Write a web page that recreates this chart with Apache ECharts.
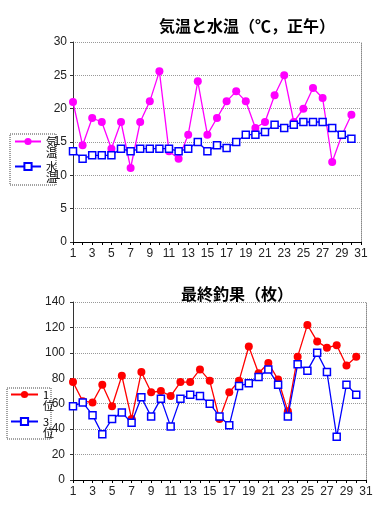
<!DOCTYPE html>
<html>
<head>
<meta charset="utf-8">
<script src="https://cdn.jsdelivr.net/npm/echarts@6/dist/echarts.min.js"></script>
<style>html,body{margin:0;padding:0;background:#fff;}#c{width:383px;height:525px;}</style>
</head>
<body>
<div id="c"></div>
<script>
var days = ['1','2','3','4','5','6','7','8','9','10','11','12','13','14','15','16','17','18','19','20','21','22','23','24','25','26','27','28','29','30','31'];
var airTemp = [21, 14.5, 18.6, 18, 14, 18, 11.1, 18, 21.1, 25.6, 13.6, 12.5, 16.1, 24.1, 16.1, 18.6, 21.1, 22.6, 21.1, 17.1, 18, 22, 25, 18, 20, 23.1, 21.6, 12, 16, 19.1];
var waterTemp = [13.6, 12.5, 13, 13, 13, 14, 13.6, 14, 14, 14, 14, 13.6, 14, 15, 13.6, 14.5, 14.1, 15, 16.1, 16.1, 16.5, 17.6, 17.1, 17.6, 18, 18, 18, 17.1, 16.1, 15.5];
var firstPlace = [77, 62, 61, 75, 58, 82, 48, 85, 69, 70, 66, 77, 77, 87, 78, 48, 69, 78, 105, 84, 92, 79, 54, 97, 122, 109, 104, 106, 90, 97];
var thirdPlace = [58, 61, 51, 36, 48, 53, 45, 65, 50, 64, 42, 64, 67, 66, 60, 50, 43, 74, 76, 81, 87, 75, 50, 91, 86, 100, 85, 34, 75, 67];
var tempAxis = {min: 0, max: 30, interval: 5};
var catchAxis = {min: 0, max: 140, interval: 20};
var names = {air: '気温', water: '水温', first: '1位', third: '3位'};

var font = 'Liberation Sans, Arial, sans-serif';
var cjk = '"Noto Sans CJK JP", sans-serif';
var chart = echarts.init(document.getElementById('c'), null, {renderer: 'canvas'});

function xAx(gi) {
  return {
    type: 'category', gridIndex: gi, data: days, boundaryGap: false,
    axisLine: {lineStyle: {color: '#000', width: 1}},
    axisTick: {interval: 0, length: 3, lineStyle: {color: '#000'}},
    axisLabel: {interval: 1, color: '#222', fontFamily: font, fontSize: 12, margin: 6},
    splitLine: {show: false}
  };
}
function yAx(gi, a, margin) {
  return {
    type: 'value', gridIndex: gi, min: a.min, max: a.max, interval: a.interval,
    axisLine: {show: true, lineStyle: {color: '#333', width: 1}},
    axisTick: {show: true, length: 3, lineStyle: {color: '#333'}},
    axisLabel: {color: '#222', fontFamily: font, fontSize: 12, margin: margin},
    splitLine: {show: true, lineStyle: {color: '#999', type: 'dotted', width: 1}}
  };
}
function yRight(gi, a) {
  return {
    type: 'value', gridIndex: gi, position: 'right', min: a.min, max: a.max, interval: a.interval,
    axisLine: {show: true, lineStyle: {color: '#888', type: 'dotted', width: 1}},
    axisTick: {show: false}, axisLabel: {show: false}, splitLine: {show: false}
  };
}
function legendFmt(n) { return '\n' + n.charAt(0) + '\n' + n.charAt(1); }

chart.setOption({
  animation: false,
  backgroundColor: '#fff',
  title: [
    {text: '気温と水温（℃，正午）', left: 154, top: 13,
     textStyle: {fontFamily: cjk, fontSize: 16, fontWeight: 'bold', color: '#000'}},
    {text: '最終釣果（枚）', left: 176, top: 281,
     textStyle: {fontFamily: cjk, fontSize: 16, fontWeight: 'bold', color: '#000'}}
  ],
  grid: [
    {left: 73, right: 22, top: 42, height: 200},
    {left: 73, right: 17, top: 302, height: 178}
  ],
  xAxis: [xAx(0), xAx(1)],
  yAxis: [yAx(0, tempAxis, 6), yAx(1, catchAxis, 8), yRight(0, tempAxis), yRight(1, catchAxis)],
  legend: [
    {data: [names.air, names.water], orient: 'vertical', left: 14, top: 125, padding: 0,
     itemGap: -8, itemWidth: 26, itemHeight: 9, selectedMode: false,
     formatter: legendFmt,
     textStyle: {fontFamily: cjk, fontSize: 11, lineHeight: 11, color: '#000'}},
    {data: [names.first, names.third], orient: 'vertical', left: 10, top: 378, padding: 0,
     itemGap: -6, itemWidth: 27, itemHeight: 9, selectedMode: false,
     formatter: legendFmt,
     textStyle: {fontFamily: cjk, fontSize: 11, lineHeight: 11, color: '#000'}}
  ],
  graphic: [
    {type: 'rect', shape: {x: 10, y: 134, width: 46, height: 51}, z: -1,
     style: {fill: 'none', stroke: '#444', lineWidth: 1, lineDash: [1, 1]}},
    {type: 'rect', shape: {x: 7, y: 388, width: 44, height: 51}, z: -1,
     style: {fill: 'none', stroke: '#444', lineWidth: 1, lineDash: [1, 1]}}
  ],
  series: [
    {name: names.air, type: 'line', xAxisIndex: 0, yAxisIndex: 0, data: airTemp,
     symbol: 'circle', symbolSize: 8, z: 2, showAllSymbol: true,
     lineStyle: {color: '#FF00FF', width: 1.3}, itemStyle: {color: '#FF00FF', borderWidth: 0}},
    {name: names.water, type: 'line', xAxisIndex: 0, yAxisIndex: 0, data: waterTemp,
     symbol: 'rect', symbolSize: 7, z: 3, showAllSymbol: true,
     lineStyle: {color: '#0000FF', width: 1.3}, itemStyle: {color: '#fff', borderColor: '#0000FF', borderWidth: 1.5}},
    {name: names.first, type: 'line', xAxisIndex: 1, yAxisIndex: 1, data: firstPlace,
     symbol: 'circle', symbolSize: 8, z: 2, showAllSymbol: true,
     lineStyle: {color: '#FF0000', width: 1.3}, itemStyle: {color: '#FF0000', borderWidth: 0}},
    {name: names.third, type: 'line', xAxisIndex: 1, yAxisIndex: 1, data: thirdPlace,
     symbol: 'rect', symbolSize: 7, z: 3, showAllSymbol: true,
     lineStyle: {color: '#0000FF', width: 1.3}, itemStyle: {color: '#fff', borderColor: '#0000FF', borderWidth: 1.5}}
  ]
});
</script>
</body>
</html>
